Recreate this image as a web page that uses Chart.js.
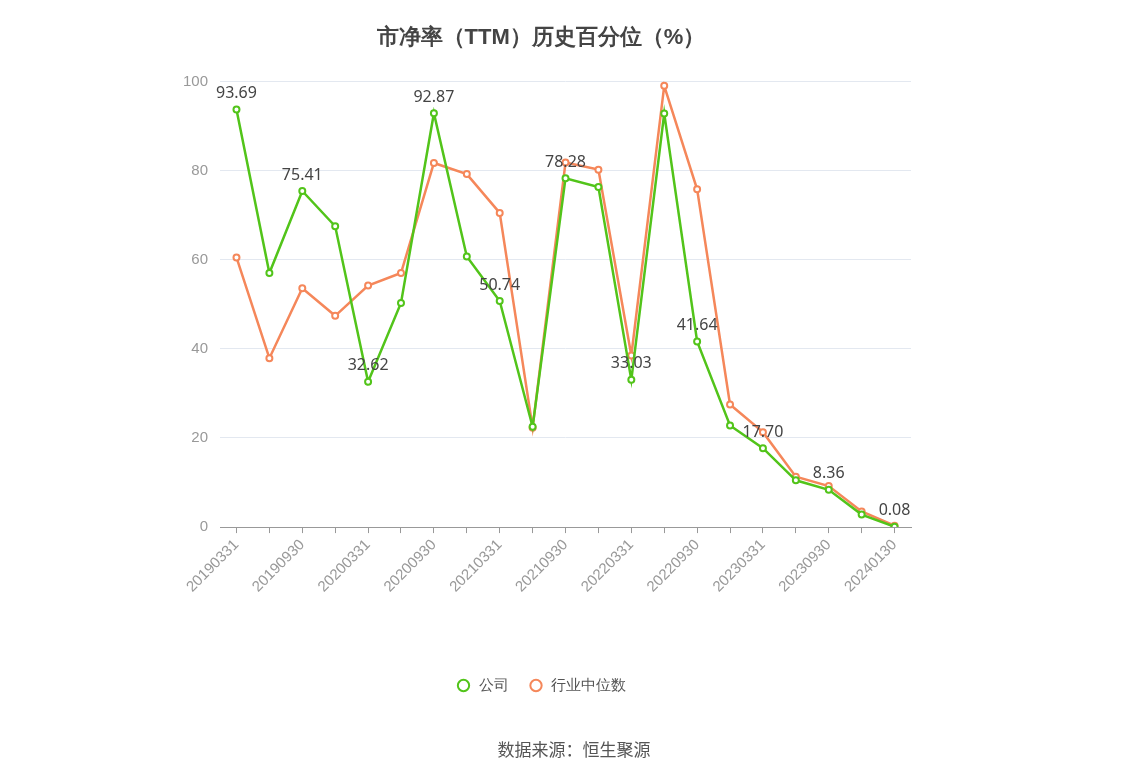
<!DOCTYPE html>
<html><head><meta charset="utf-8">
<script src="https://cdn.jsdelivr.net/npm/chart.js@4"></script>
<style>body{margin:0;background:#fff;font-family:"Noto Sans CJK SC","Noto Sans",sans-serif}
#w{position:relative;width:1148px;height:776px}
#src{position:absolute;left:0;width:1148px;top:736px;text-align:center;font-size:17px;color:#555}</style>
</head><body><div id="w"><canvas id="c" width="1148" height="776"></canvas><div id="src">数据来源：恒生聚源</div></div>
<script>
const categories=["20190331","20190630","20190930","20191231","20200331","20200630","20200930","20201231","20210331","20210630","20210930","20211231","20220331","20220630","20220930","20221231","20230331","20230630","20230930","20231231","20240130"];
const companyValues=[93.69,57.0,75.41,67.5,32.62,50.3,92.87,60.7,50.74,22.5,78.28,76.3,33.03,92.8,41.64,22.8,17.70,10.5,8.36,2.8,0.08];
const industryValues=[60.5,37.9,53.6,47.4,54.2,57.0,81.7,79.2,70.5,22.3,81.8,80.2,38.5,99.0,75.8,27.5,21.3,11.3,9.2,3.5,0.3];
const labelPlugin={id:'lbl',afterDatasetsDraw(ch){const ctx=ch.ctx;const m=ch.getDatasetMeta(0);ctx.save();ctx.font='16px "Noto Sans","Noto Sans CJK SC",sans-serif';ctx.fillStyle='#444';ctx.textAlign='center';ctx.textBaseline='bottom';
m.data.forEach((p,i)=>{if(i%2===0)ctx.fillText(companyValues[i].toFixed(2),p.x,p.y-8);});ctx.restore();}};
new Chart(document.getElementById('c'),{type:'line',plugins:[labelPlugin],
data:{labels:categories,datasets:[
{label:'公司',data:companyValues,borderColor:'#52c41a',backgroundColor:'#fff',borderWidth:2.5,pointRadius:3,pointBorderWidth:2,tension:0},
{label:'行业中位数',data:industryValues,borderColor:'#f5875a',backgroundColor:'#fff',borderWidth:2.5,pointRadius:3,pointBorderWidth:2,tension:0}]},
options:{responsive:false,animation:false,
layout:{padding:{left:171,right:237,top:25,bottom:73}},
plugins:{title:{display:true,text:'市净率（TTM）历史百分位（%）',font:{size:22,weight:'bold'},color:'#444',padding:{top:0,bottom:30}},
legend:{position:'bottom',labels:{usePointStyle:true,pointStyle:'circle',font:{size:15},color:'#555',padding:20,boxHeight:8},
onClick:null},tooltip:{enabled:false}},
scales:{x:{offset:true,afterFit:s=>{s.height+=59;},grid:{display:true,drawOnChartArea:false,drawTicks:true,tickLength:6,color:'#999'},border:{color:'#999'},ticks:{autoSkip:false,maxRotation:45,minRotation:45,color:'#999',font:{size:15},callback:(v,i)=>i%2===0?categories[i]:''}},
y:{min:0,max:100,ticks:{stepSize:20,color:'#999',font:{size:15},padding:12},grid:{color:'#e3e8f0',drawTicks:false},border:{display:false}}}}});
</script></body></html>
